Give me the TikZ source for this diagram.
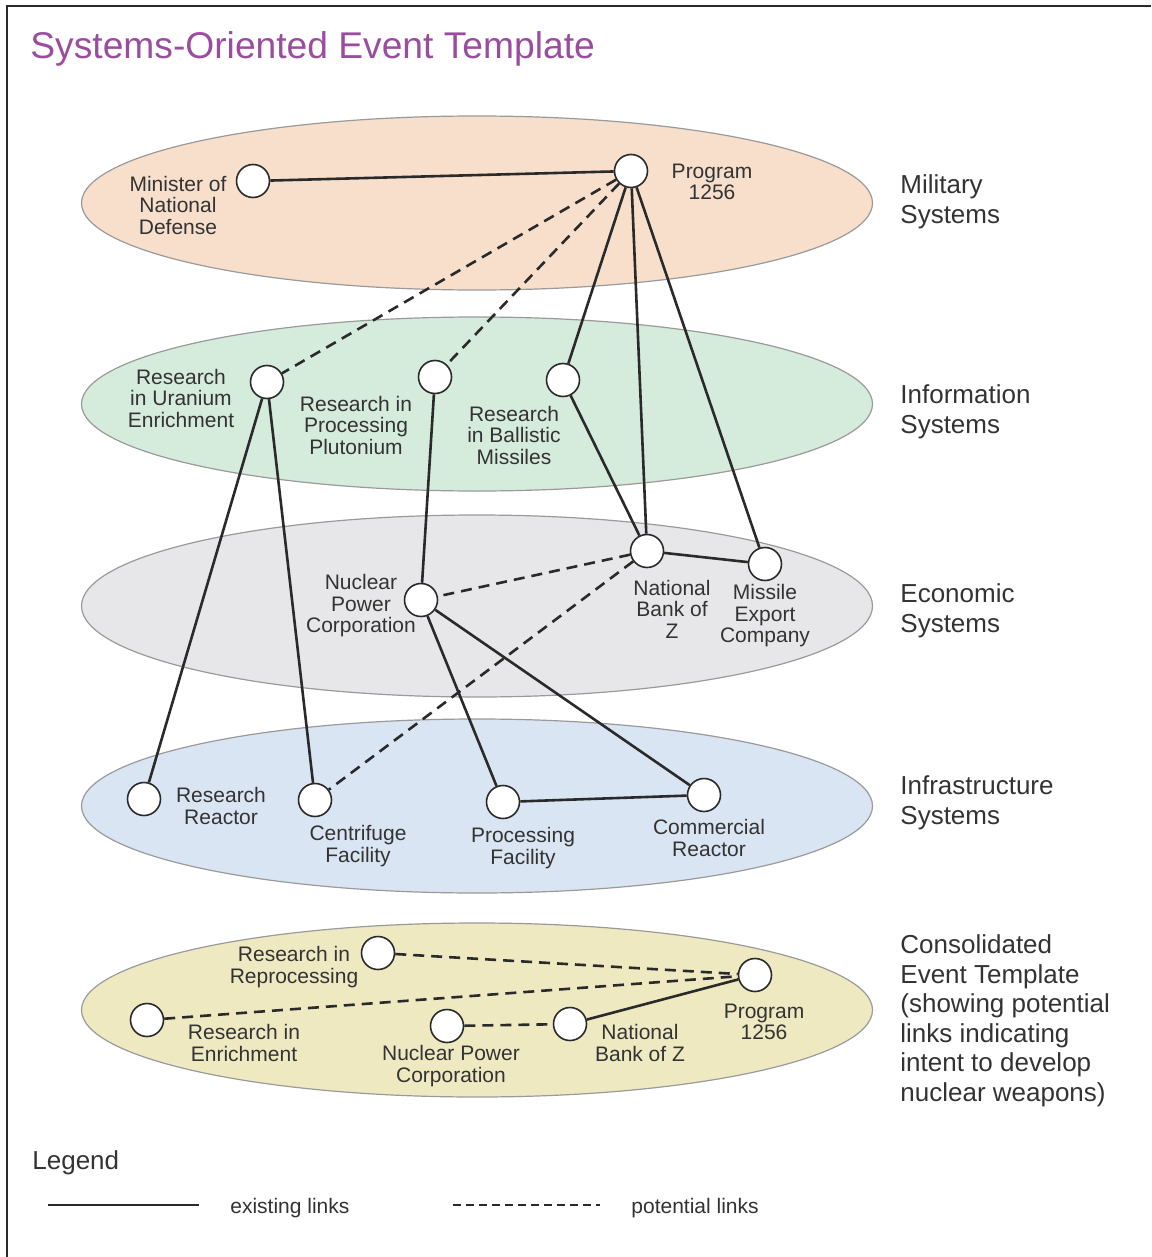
\documentclass[tikz,border=0pt]{standalone}
\usepackage{fontspec}
\setmainfont{Liberation Sans}
\usetikzlibrary{shapes.geometric}
\definecolor{titlec}{HTML}{9A4C9E}
\definecolor{textc}{HTML}{333333}
\definecolor{linec}{HTML}{2A2A2A}
\definecolor{layerline}{HTML}{9A9A9A}
\definecolor{milc}{HTML}{F7DFCC}
\definecolor{infoc}{HTML}{D5EBDC}
\definecolor{econc}{HTML}{E7E7E9}
\definecolor{infrac}{HTML}{DAE5F3}
\definecolor{consc}{HTML}{EFE9C2}
\begin{document}
\begin{tikzpicture}[x=0.5pt,y=-0.5pt,
  layer/.style={ellipse, draw=layerline, line width=0.6pt, minimum width=395.5pt, minimum height=87pt, inner sep=0pt},
  vert/.style={circle, draw=linec, fill=white, line width=0.8pt, minimum size=16.5pt, inner sep=0pt},
  txt/.style={inner sep=0pt, text=textc, yshift=-1.5pt},
  lbl/.style={inner sep=0pt, text=textc, align=center, font=\fontsize{10.5}{10.75}\selectfont},
  side/.style={txt, align=left, anchor=west, font=\fontsize{13}{14.75}\selectfont},
  exist/.style={draw=linec, line width=1.3pt},
  potential/.style={draw=linec, line width=1.3pt, dash pattern=on 5.5pt off 3.5pt}]
\useasboundingbox (0,0) rectangle (1151,1257);
% frame
\coordinate (fa) at (7,1257);
\coordinate (fb) at (7,6);
\coordinate (fc) at (1151,6);
\draw[draw=linec, line width=1pt] (fa) -- (fb) -- (fc);
% title
\node[txt, anchor=west, text=titlec, font=\fontsize{18.6}{20}\selectfont] (title) at (30,46) {Systems-Oriented Event Template};
% layers
\node[layer, fill=milc] (L1) at (477,203) {};
\node[layer, fill=infoc] (L2) at (477,404) {};
\node[layer, fill=econc, minimum height=91pt] (L3) at (477,606) {};
\node[layer, fill=infrac] (L4) at (477,806) {};
\node[layer, fill=consc] (L5) at (477,1010) {};
% side labels
\node[side] (s1) at (900,199) {Military\\Systems};
\node[side] (s2) at (900,409) {Information\\Systems};
\node[side] (s3) at (900,608) {Economic\\Systems};
\node[side] (s4) at (900,800) {Infrastructure\\Systems};
\node[side] (s5) at (900,1018) {Consolidated\\Event Template\\(showing potential\\links indicating\\intent to develop\\nuclear weapons)};
% vertices
\node[vert] (mnd) at (253,181) {};
\node[vert] (p1256) at (631,171) {};
\node[vert] (rue) at (267,382) {};
\node[vert] (rpp) at (435,377) {};
\node[vert] (rbm) at (563,380) {};
\node[vert] (npc) at (421,600) {};
\node[vert] (nbz) at (647,551) {};
\node[vert] (mec) at (765,564) {};
\node[vert] (rr) at (144,799) {};
\node[vert] (cf) at (315,800) {};
\node[vert] (pf) at (503,802) {};
\node[vert] (cr) at (704,795) {};
\node[vert] (crp) at (378,953) {};
\node[vert] (cp) at (755,975) {};
\node[vert] (cre) at (147,1020) {};
\node[vert] (cnp) at (447,1026) {};
\node[vert] (cnb) at (570,1024) {};
% labels
\node[lbl] (lmnd) at (178,205) {Minister of\\National\\Defense};
\node[lbl] (lp) at (712,182) {Program\\1256};
\node[lbl] (lrue) at (181,398) {Research\\in Uranium\\Enrichment};
\node[lbl] (lrpp) at (356,425) {Research in\\Processing\\Plutonium};
\node[lbl] (lrbm) at (514,435) {Research\\in Ballistic\\Missiles};
\node[lbl] (lnpc) at (361,606) {Nuclear\\Power\\Corporation};
\node[lbl] (lnbz) at (672,609) {National\\Bank of\\Z};
\node[lbl] (lmec) at (765,616) {Missile\\Export\\Company};
\node[lbl] (lrr) at (221,806) {Research\\Reactor};
\node[lbl] (lcf) at (358,846) {Centrifuge\\Facility};
\node[lbl] (lpf) at (523,848) {Processing\\Facility};
\node[lbl] (lcr) at (709,838) {Commercial\\Reactor};
\node[lbl] (lcrp) at (294,967) {Research in\\Reprocessing};
\node[lbl] (lcp) at (764,1022) {Program\\1256};
\node[lbl] (lcre) at (244,1043) {Research in\\Enrichment};
\node[lbl] (lcnp) at (451,1066) {Nuclear Power\\Corporation};
\node[lbl] (lcnb) at (640,1043) {National\\Bank of Z};
% existing links
\draw[exist] (mnd) -- (p1256);
\draw[exist] (p1256) -- (rbm);
\draw[exist] (p1256) -- (nbz);
\draw[exist] (p1256) -- (mec);
\draw[exist] (rbm) -- (nbz);
\draw[exist] (nbz) -- (mec);
\draw[exist] (rue) -- (rr);
\draw[exist] (rue) -- (cf);
\draw[exist] (rpp) -- (npc);
\draw[exist] (npc) -- (pf);
\draw[exist] (npc) -- (cr);
\draw[exist] (pf) -- (cr);
\draw[exist] (cnb) -- (cp);
% potential links
\draw[potential] (p1256) -- (rue);
\draw[potential] (p1256) -- (rpp);
\draw[potential] (nbz) -- (npc);
\draw[potential] (nbz) -- (cf);
\draw[potential] (crp) -- (cp);
\draw[potential] (cre) -- (cp);
\draw[potential] (cnp) -- (cnb);
% legend
\node[txt, anchor=west, font=\fontsize{13}{15}\selectfont] (leg) at (32,1160) {Legend};
\coordinate (la) at (48,1205);
\coordinate (lb) at (199,1205);
\coordinate (lc) at (453,1205);
\coordinate (ld) at (600,1205);
\draw[exist] (la) -- (lb);
\draw[potential, dash pattern=on 4pt off 2.5pt] (lc) -- (ld);
\node[txt, anchor=west, font=\fontsize{10.5}{12}\selectfont] (le) at (230,1205) {existing links};
\node[txt, anchor=west, font=\fontsize{10.5}{12}\selectfont] (lp2) at (631,1205) {potential links};
\end{tikzpicture}
\end{document}
